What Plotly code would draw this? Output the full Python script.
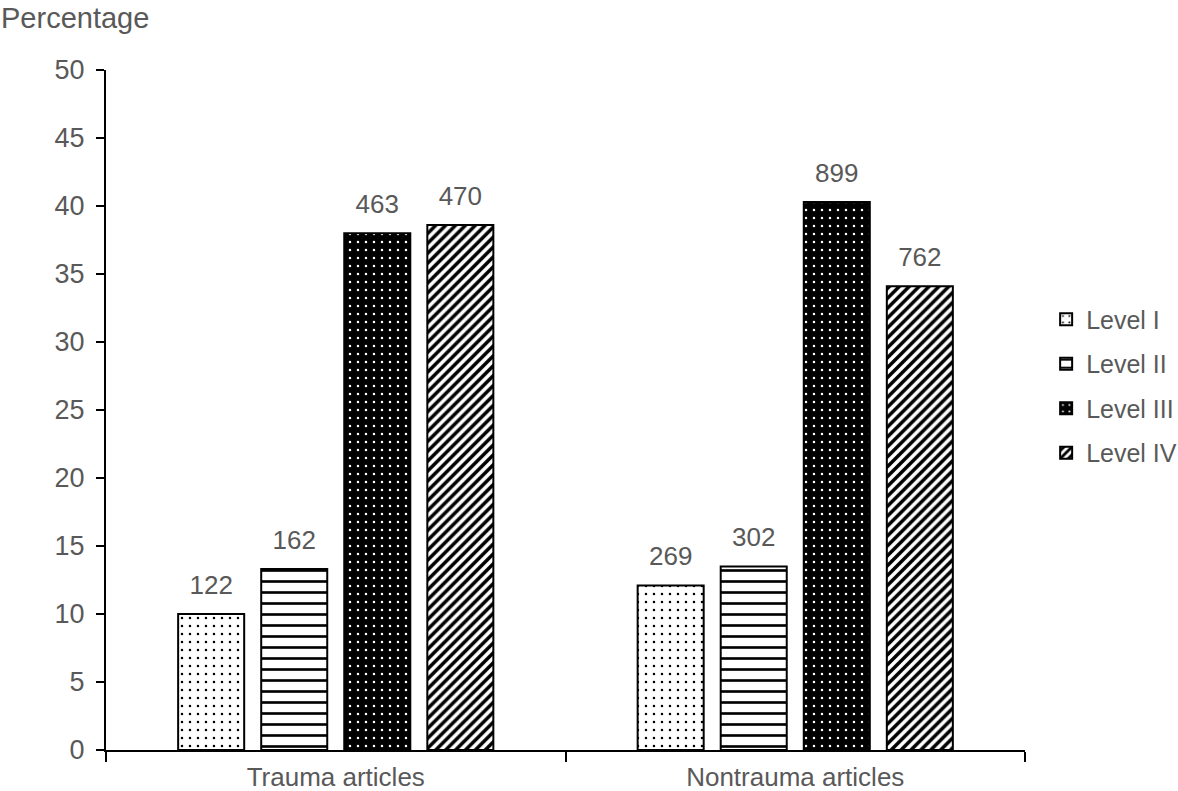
import plotly.graph_objects as go

categories = ["Trauma articles", "Nontrauma articles"]
levels = ["Level I", "Level II", "Level III", "Level IV"]
percentages = {
    "Level I": [10.0, 12.1],
    "Level II": [13.3, 13.5],
    "Level III": [38.0, 40.3],
    "Level IV": [38.6, 34.1],
}
counts = {
    "Level I": [122, 269],
    "Level II": [162, 302],
    "Level III": [463, 899],
    "Level IV": [470, 762],
}
y_ticks = [0, 5, 10, 15, 20, 25, 30, 35, 40, 45, 50]

patterns = {
    "Level I": dict(shape=".", fgcolor="black", bgcolor="white", size=8, solidity=0.08,
                    fillmode="overlay", fgopacity=1),
    "Level II": dict(shape="-", fgcolor="black", bgcolor="white", size=11, solidity=0.24,
                     fillmode="overlay", fgopacity=1),
    "Level III": dict(shape=".", fgcolor="white", bgcolor="black", size=8, solidity=0.08,
                      fillmode="overlay", fgopacity=1),
    "Level IV": dict(shape="/", fgcolor="black", bgcolor="white", size=7, solidity=0.5,
                     fillmode="overlay", fgopacity=1),
}
colors = {"Level I": "white", "Level II": "white", "Level III": "black", "Level IV": "white"}

TEXT = "#595959"
FONT = "Liberation Sans, Arial, sans-serif"
BARGAP = 0.277

fig = go.Figure()
for lv in levels:
    fig.add_trace(go.Bar(
        name=lv,
        x=categories,
        y=percentages[lv],
        marker=dict(color=colors[lv], line=dict(color="black", width=2), pattern=patterns[lv]),
        legendgroup=lv,
        offsetgroup=lv,
    ))
for lv in levels:
    fig.add_trace(go.Scatter(
        x=categories,
        y=percentages[lv],
        mode="markers+text",
        text=[str(c) for c in counts[lv]],
        textposition="top center",
        textfont=dict(size=26, color=TEXT, family=FONT),
        marker=dict(size=20, opacity=0),
        offsetgroup=lv,
        showlegend=False,
        cliponaxis=False,
        hoverinfo="skip",
    ))

fig.update_layout(
    width=1178, height=791,
    margin=dict(l=106, r=153, t=70, b=41, autoexpand=False),
    paper_bgcolor="white", plot_bgcolor="white",
    barmode="group", bargap=BARGAP, bargroupgap=0.205,
    scattermode="group", scattergap=BARGAP,
    font=dict(family=FONT, size=25, color=TEXT),
    showlegend=True,
    legend=dict(x=1.023, y=0.667, xanchor="left", yanchor="top",
                font=dict(size=25, color=TEXT), tracegroupgap=9,
                itemwidth=30, traceorder="grouped"),
    xaxis=dict(showline=True, linecolor="black", linewidth=2, ticks="outside",
               tickson="boundaries", ticklen=10, tickwidth=2, tickcolor="black",
               ticklabelstandoff=3,
               tickfont=dict(size=26, color=TEXT), showgrid=False, automargin=False),
    yaxis=dict(range=[0, 50], tickvals=y_ticks, showline=True, linecolor="black",
               linewidth=2, ticks="outside", ticklen=8, tickwidth=2, tickcolor="black",
               ticklabelstandoff=6, automargin=False,
               tickfont=dict(size=27, color=TEXT), showgrid=False, zeroline=False),
    annotations=[dict(text="Percentage", x=0, y=1, xref="paper", yref="paper",
                      xshift=-107, yshift=70, xanchor="left", yanchor="top",
                      showarrow=False, font=dict(size=29, color=TEXT))],
)

fig.write_html(
    "out.html",
    config={"displayModeBar": False},
    post_script="document.body.style.margin='0';document.body.style.overflow='hidden';",
)
